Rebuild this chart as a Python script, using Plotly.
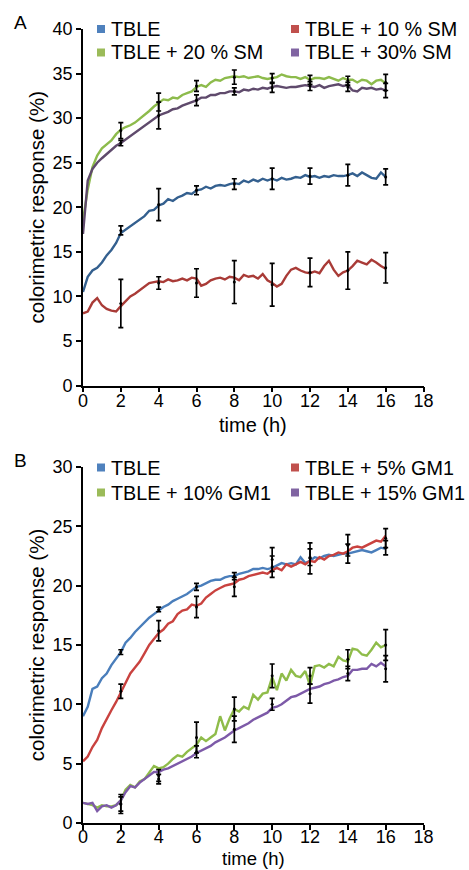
import plotly.graph_objects as go

# ---------------- data ----------------
t = [i * 0.25 for i in range(65)]
t_err = [2, 4, 6, 8, 10, 12, 14, 16]

a_names = ["TBLE", "TBLE + 10 % SM", "TBLE + 20 % SM", "TBLE + 30% SM"]
b_names = ["TBLE", "TBLE + 5% GM1", "TBLE + 10% GM1", "TBLE + 15% GM1"]

a_tble = [10.5, 12.2, 12.9, 13.2, 13.8, 14.6, 15.2, 16.0, 17.1, 17.5, 17.8, 18.3, 18.6, 19.0, 19.6, 19.7,
          20.2, 20.4, 20.9, 20.7, 21.1, 21.3, 21.6, 21.5, 21.9, 22.0, 22.3, 22.1, 22.4, 22.5, 22.4, 22.6,
          22.7, 22.6, 23.0, 22.8, 23.1, 22.9, 23.2, 23.0, 23.2, 23.0, 23.3, 23.1, 23.2, 23.4, 23.3, 23.6,
          23.4, 23.5, 23.3, 23.5, 23.4, 23.6, 23.5, 23.5, 23.6, 23.8, 23.5, 23.9, 23.6, 23.3, 23.2, 23.9, 23.4]
a_sm10 = [8.1, 8.3, 9.3, 9.8, 9.0, 8.6, 8.4, 8.3, 8.9, 9.5, 10.0, 10.3, 10.7, 11.0, 11.5, 11.6,
          11.7, 11.6, 11.9, 11.7, 11.8, 12.0, 11.8, 12.1, 12.0, 11.2, 11.4, 11.8, 12.0, 12.1, 11.9, 12.2,
          12.1, 11.8, 12.4, 12.2, 12.3, 12.0, 12.5, 11.8, 11.5, 11.1, 11.4, 12.3, 13.0, 13.2, 12.9, 12.7,
          12.6, 12.8, 12.6, 13.4, 14.0, 13.0, 12.3, 12.7, 12.9, 13.4, 14.0, 13.8, 13.6, 14.1, 13.8, 13.4, 13.1]
a_sm20 = [18.5, 22.0, 24.5, 25.8, 26.6, 27.0, 27.5, 28.2, 28.7, 29.0, 29.2, 29.5, 29.9, 30.3, 30.8, 31.3,
          31.7, 32.1, 32.0, 32.3, 32.2, 32.6, 32.8, 33.0, 33.5, 33.7, 33.5, 34.0, 34.3, 34.2, 34.5, 34.6,
          34.7, 34.6, 34.7, 34.5, 34.6, 34.7, 34.5, 34.4, 34.5, 34.6, 34.9, 34.7, 34.6, 34.6, 34.4, 34.6,
          34.3, 34.5, 34.5, 34.4, 34.6, 34.4, 34.2, 34.5, 34.3, 34.3, 34.0, 34.3, 34.2, 33.8, 34.2, 34.3, 33.9]
a_sm30 = [17.0, 23.0, 24.3, 25.0, 25.5, 26.0, 26.5, 26.9, 27.2, 27.6, 28.0, 28.4, 28.8, 29.2, 29.6, 29.9,
          30.3, 30.5, 30.7, 31.0, 31.1, 31.4, 31.6, 31.8, 32.0, 32.3, 32.3, 32.6, 32.6, 32.8, 32.8, 33.0,
          33.0, 32.9, 33.2, 33.1, 33.3, 33.2, 33.4, 33.3, 33.5, 33.6, 33.5, 33.4, 33.5, 33.5, 33.6, 33.7,
          33.6, 33.5, 33.7, 33.4, 33.6, 33.7, 33.8, 33.6, 33.7, 33.1, 33.0, 33.4, 33.3, 33.4, 33.2, 33.3, 33.1]

a_err_mean = [
    [17.4, 20.3, 21.9, 22.6, 23.2, 23.5, 23.6, 23.4],
    [9.2, 11.5, 11.5, 11.6, 11.3, 12.7, 12.9, 13.2],
    [28.6, 31.8, 33.6, 34.6, 34.5, 34.3, 34.2, 34.0],
    [27.2, 30.3, 32.0, 33.0, 33.4, 33.6, 33.5, 33.1],
]
a_err_sd = [
    [0.5, 1.8, 0.5, 0.6, 1.2, 0.9, 1.2, 0.9],
    [2.7, 0.7, 1.6, 2.4, 2.4, 1.6, 2.1, 1.7],
    [0.9, 1.0, 0.6, 0.8, 0.5, 0.5, 0.5, 0.9],
    [0.3, 1.5, 0.6, 0.4, 0.5, 0.5, 0.5, 0.8],
]

b_tble = [9.0, 9.8, 11.3, 11.5, 12.2, 12.6, 13.3, 13.9, 14.4, 15.2, 15.6, 16.1, 16.5, 16.9, 17.3, 17.6,
          17.9, 18.2, 18.4, 18.7, 18.9, 19.1, 19.3, 19.6, 19.9, 20.0, 20.2, 20.4, 20.5, 20.5, 20.7, 20.8,
          20.8, 21.0, 21.1, 21.2, 21.4, 21.4, 21.5, 21.4, 21.5, 21.7, 21.9, 21.8, 21.9, 21.8, 22.4, 21.9,
          22.1, 22.4, 22.3, 22.5, 22.6, 22.5, 22.6, 22.7, 22.7, 22.8, 22.9, 23.0, 22.9, 22.8, 23.0, 23.2, 23.1]
b_gm5 = [5.2, 5.6, 6.4, 7.0, 8.0, 8.8, 9.5, 10.2, 11.0, 11.9, 12.6, 13.1, 13.6, 14.3, 15.0, 15.5,
         16.0, 16.3, 16.8, 17.0, 17.6, 17.9, 18.0, 18.4, 18.3, 18.5, 19.0, 19.3, 19.6, 19.8, 20.0, 20.1,
         20.2, 20.5, 20.6, 20.8, 20.9, 21.0, 21.1, 21.0, 21.3, 21.5, 21.3, 21.8, 21.6, 21.8, 22.0, 21.8,
         22.1, 22.0, 22.4, 22.2, 22.5, 22.6, 22.8, 22.7, 22.9, 23.2, 23.3, 23.2, 23.4, 23.6, 23.8, 23.7, 24.2]
b_gm10 = [1.7, 1.6, 1.5, 1.3, 1.5, 1.4, 1.4, 1.5, 1.9, 2.8, 3.2, 3.0, 3.5, 3.7, 4.3, 4.8,
          4.6, 4.7, 5.0, 5.4, 5.7, 5.6, 6.0, 6.3, 6.6, 7.2, 6.9, 7.2, 7.5, 9.0, 7.8, 8.8,
          9.6, 9.4, 9.8, 9.6, 10.8, 10.4, 10.9, 11.0, 12.3, 11.2, 12.6, 12.0, 12.9, 12.4, 12.3, 12.8,
          11.6, 13.2, 13.3, 13.1, 13.4, 13.2, 14.0, 13.7, 13.6, 14.7, 14.6, 14.2, 14.1, 14.6, 15.2, 14.8, 15.0]
b_gm15 = [1.7, 1.6, 1.7, 1.0, 1.4, 1.5, 1.3, 1.5, 1.9, 2.6, 3.1, 3.0, 3.4, 3.7, 4.0, 4.3,
          4.3, 4.5, 4.6, 4.8, 5.0, 5.2, 5.4, 5.6, 5.9, 6.1, 6.3, 6.5, 6.8, 7.0, 7.2, 7.5,
          7.8, 8.0, 8.2, 8.4, 8.7, 8.9, 9.1, 9.3, 9.7, 9.8, 10.0, 10.3, 10.6, 10.7, 10.9, 11.1,
          11.3, 11.4, 11.5, 11.7, 11.8, 12.0, 12.1, 12.3, 12.4, 12.9, 12.9, 13.0, 13.0, 13.4, 13.2, 13.5, 13.2]

b_err_mean = [
    [14.4, 18.0, 19.9, 20.8, 21.6, 22.4, 22.7, 23.2],
    [11.1, 16.2, 18.2, 19.9, 22.2, 22.3, 23.4, 24.0],
    [1.6, 4.0, 7.2, 9.6, 12.4, 12.4, 13.8, 15.0],
    [1.6, 3.7, 6.0, 7.9, 10.0, 10.9, 12.6, 13.0],
]
b_err_sd = [
    [0.2, 0.2, 0.3, 0.3, 0.9, 0.7, 0.8, 0.6],
    [0.6, 0.85, 0.9, 0.8, 1.0, 1.3, 0.9, 0.8],
    [0.8, 0.5, 1.3, 1.0, 1.0, 0.7, 0.8, 1.3],
    [0.6, 0.4, 0.5, 1.1, 0.5, 0.8, 0.6, 1.1],
]

x_ticks = list(range(0, 19, 2))
x_title = "time (h)"
y_title = "colorimetric response (%)"

# ---------------- styling ----------------
W, H = 469, 870
FONT = "Liberation Sans, Arial, sans-serif"
a_line_colors = ["#34608f", "#a93b37", "#8dbb4c", "#5f4a6c"]
b_line_colors = ["#4a7ebb", "#c9423f", "#8fbc4a", "#7d5aa8"]
legend_colors = ["#4f81bd", "#c0504d", "#9bbb59", "#8064a2"]


def px_x(p):
    return p / W


def px_y(p):
    return 1 - p / H


fig = go.Figure()

a_series = [a_tble, a_sm10, a_sm20, a_sm30]
b_series = [b_tble, b_gm5, b_gm10, b_gm15]

for i, ys in enumerate(a_series):
    fig.add_trace(go.Scatter(x=t, y=ys, mode="lines", name=a_names[i],
                             line=dict(color=a_line_colors[i], width=2.4),
                             xaxis="x", yaxis="y", showlegend=False))
for i in range(4):
    fig.add_trace(go.Scatter(x=t_err, y=a_err_mean[i], mode="markers",
                             marker=dict(size=3, color="black"),
                             error_y=dict(type="data", array=a_err_sd[i], color="black",
                                          thickness=1.7, width=2.5),
                             xaxis="x", yaxis="y", showlegend=False))

for i, ys in enumerate(b_series):
    fig.add_trace(go.Scatter(x=t, y=ys, mode="lines", name=b_names[i],
                             line=dict(color=b_line_colors[i], width=2.4),
                             xaxis="x2", yaxis="y2", showlegend=False))
for i in range(4):
    fig.add_trace(go.Scatter(x=t_err, y=b_err_mean[i], mode="markers",
                             marker=dict(size=3, color="black"),
                             error_y=dict(type="data", array=b_err_sd[i], color="black",
                                          thickness=1.7, width=2.5),
                             xaxis="x2", yaxis="y2", showlegend=False))

axis_common = dict(showline=True, linecolor="black", linewidth=1.6, ticks="outside",
                   ticklen=5, tickwidth=1.6, tickcolor="black", showgrid=False,
                   zeroline=False, automargin=False,
                   tickfont=dict(family=FONT, size=18, color="black"))
title_font = dict(family=FONT, size=20.5, color="black")

xdom = [px_x(83), px_x(423.5)]
fig.update_layout(
    width=W, height=H, margin=dict(l=0, r=0, t=0, b=0),
    paper_bgcolor="white", plot_bgcolor="white",
    font=dict(family=FONT, color="black"),
    xaxis=dict(domain=xdom, range=[0, 18], tickvals=x_ticks, anchor="y",
               ticklabelstandoff=-7, **axis_common),
    yaxis=dict(domain=[px_y(385.5), px_y(29)], range=[0, 40], dtick=5, anchor="x",
               title=dict(text=y_title, font=title_font, standoff=2),
               **axis_common),
    xaxis2=dict(domain=xdom, range=[0, 18], tickvals=x_ticks, anchor="y2",
                ticklabelstandoff=-8, **axis_common),
    yaxis2=dict(domain=[px_y(823), px_y(467)], range=[0, 30], dtick=5, anchor="x2",
                title=dict(text=y_title, font=title_font, standoff=2),
                **axis_common),
)

# x-axis titles placed under each panel
x_center = (xdom[0] + xdom[1]) / 2
for cy, fs in ((425, 20), (858.5, 18.5)):
    fig.add_annotation(text=x_title, x=x_center, y=px_y(cy), xref="paper", yref="paper",
                       xanchor="center", yanchor="middle", showarrow=False,
                       font=dict(family=FONT, size=fs, color="black"))

# panel letters
fig.add_annotation(text="A", x=px_x(12), y=px_y(23), xref="paper", yref="paper",
                   xanchor="left", yanchor="middle", showarrow=False,
                   font=dict(family=FONT, size=19, color="black"))
fig.add_annotation(text="B", x=px_x(12), y=px_y(460), xref="paper", yref="paper",
                   xanchor="left", yanchor="middle", showarrow=False,
                   font=dict(family=FONT, size=19, color="black"))


# legends (square swatch + label)
def add_legend(names, rows_y, cols_x):
    pos = [(0, 0), (0, 1), (1, 0), (1, 1)]
    for i, name in enumerate(names):
        r, c = pos[i]
        cy = rows_y[r]
        sx = cols_x[c]
        fig.add_shape(type="rect", xref="paper", yref="paper",
                      x0=px_x(sx), x1=px_x(sx + 8), y0=px_y(cy + 4), y1=px_y(cy - 4),
                      fillcolor=legend_colors[i], line=dict(width=0))
        fig.add_annotation(text=name, x=px_x(sx + 12), y=px_y(cy), xref="paper", yref="paper",
                           xanchor="left", yanchor="middle", showarrow=False,
                           font=dict(family=FONT, size=19.8, color="black"))


add_legend(a_names, [29, 52.5], [97, 291])
add_legend(b_names, [467.5, 492.5], [97, 291])

fig.write_html("out.html", config={"displayModeBar": False},
               post_script="document.body.style.margin='0';document.body.style.overflow='hidden';")
